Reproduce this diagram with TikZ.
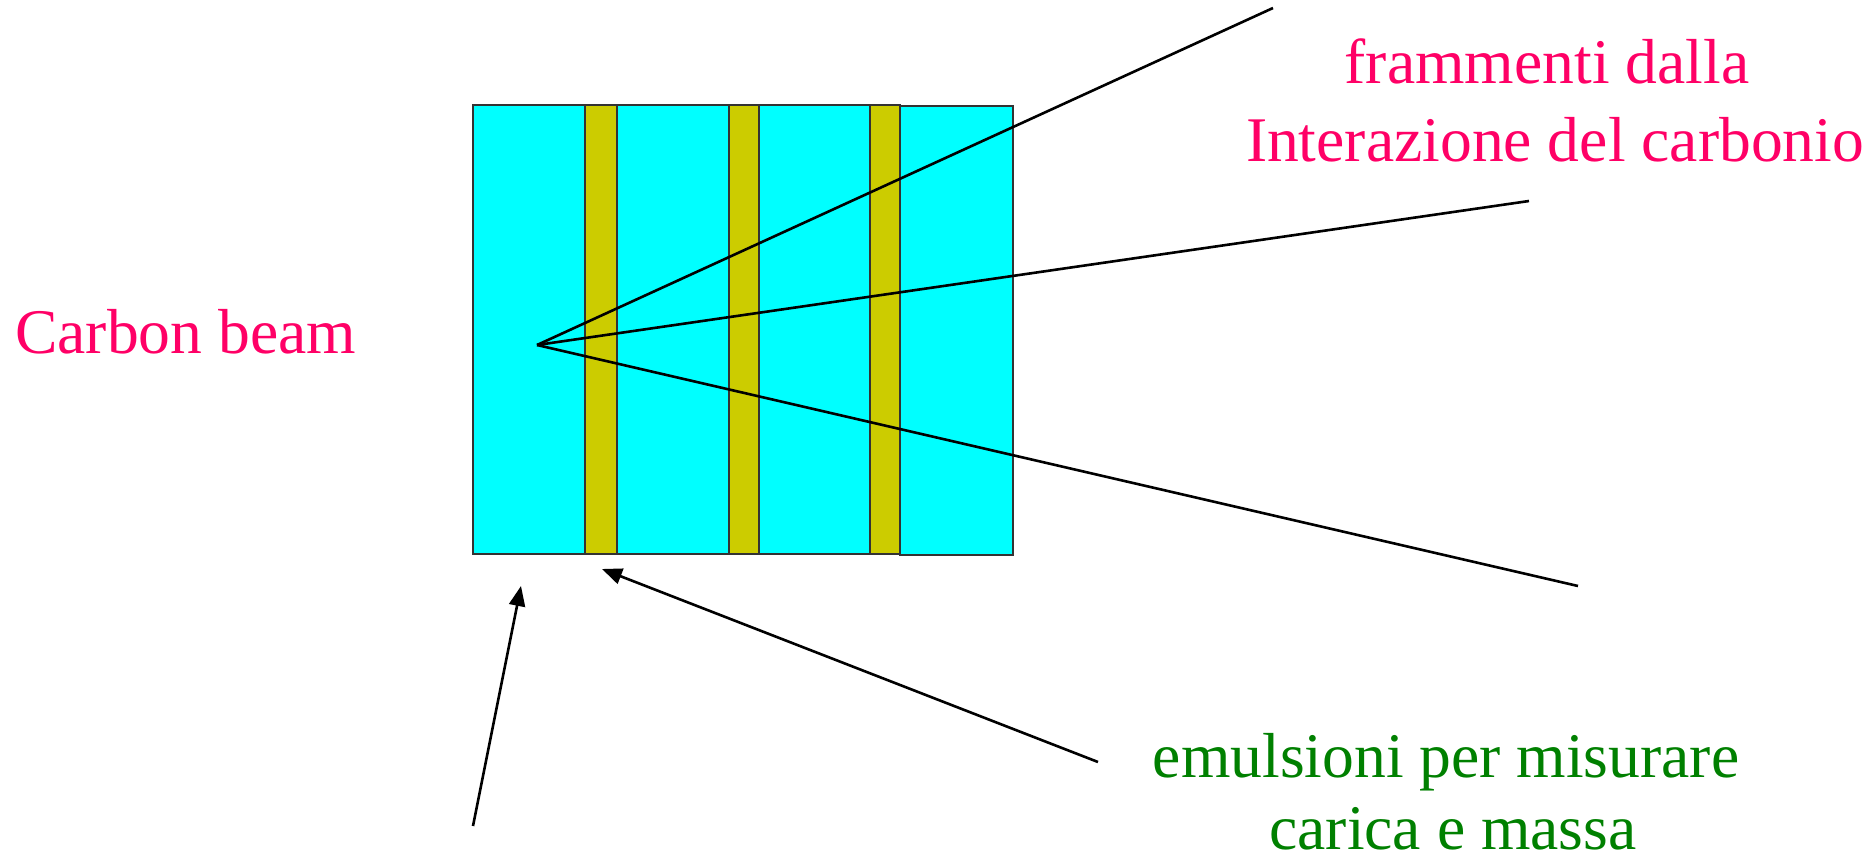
\documentclass[tikz,border=0pt]{standalone}
\usepackage{fontspec}
\setmainfont{Liberation Serif}
\usetikzlibrary{arrows.meta}
\definecolor{pinktxt}{RGB}{255,0,102}
\definecolor{greentxt}{RGB}{0,128,0}
\definecolor{cyanfill}{RGB}{0,255,255}
\definecolor{yelfill}{RGB}{204,204,0}
\tikzset{
  layer/.style={draw=black!80, line width=2.4pt, fill=cyanfill},
  emul/.style={draw=black!80, line width=2.4pt, fill=yelfill},
  track/.style={draw=black, line width=2.6pt},
  pointer/.style={draw=black, line width=2.6pt, -{Triangle[length=20pt,width=16pt]}},
  lbl/.style={inner sep=0pt, anchor=base, font=\fontsize{63.6}{77}\selectfont},
}
\begin{document}
\begin{tikzpicture}[x=1pt,y=-1pt]
\useasboundingbox (0,0) rectangle (1875,857);
% detector stack
\path[layer] (473,105) rectangle (900,554);
\path[layer] (900,106) rectangle (1013,555);
\path[emul] (585,105) rectangle (617,554);
\path[emul] (729,105) rectangle (759,554);
\path[emul] (870,105) rectangle (900,554);
% interaction vertex and tracks
\coordinate (v) at (537,345);
\coordinate (t1) at (1273,8);
\coordinate (t2) at (1529,201);
\coordinate (t3) at (1578,586);
\draw[track] (v) -- (t1);
\draw[track] (v) -- (t2);
\draw[track] (v) -- (t3);
% labels
\node[lbl, anchor=base west, text=pinktxt] (beam) at (15,353) {Carbon beam};
\node[lbl, text=pinktxt] (fr1) at (1547,83) {frammenti dalla};
\node[lbl, text=pinktxt] (fr2) at (1555,161) {Interazione del carbonio};
\node[lbl, text=greentxt] (em1) at (1446,777) {emulsioni per misurare};
\node[lbl, text=greentxt] (em2) at (1453,849) {carica e massa};
% pointers
\coordinate (a1s) at (473,826);
\coordinate (a1e) at (521,586);
\coordinate (a2s) at (1098,762);
\coordinate (a2e) at (602,569);
\draw[pointer] (a1s) -- (a1e);
\draw[pointer] (a2s) -- (a2e);
\end{tikzpicture}
\end{document}
